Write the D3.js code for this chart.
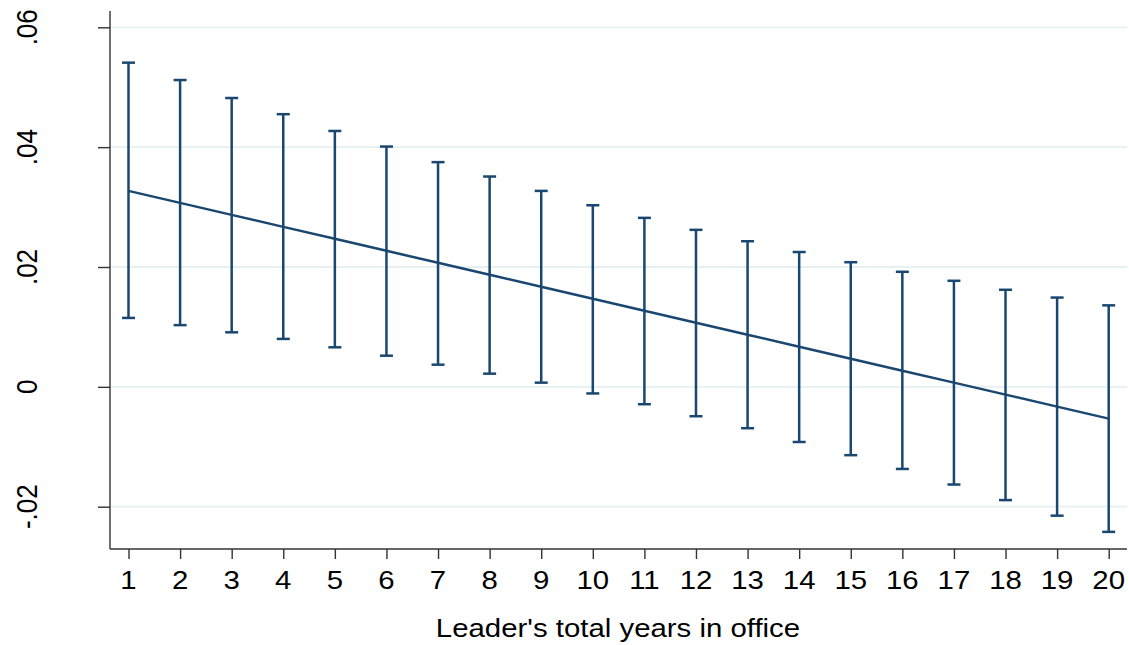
<!DOCTYPE html>
<html>
<head>
<meta charset="utf-8">
<script src="https://cdn.jsdelivr.net/npm/d3@7"></script>
<style>
  body { margin: 0; background: #fff; }
  svg { display: block; }
  text { font-family: "Liberation Sans", Arial, sans-serif; fill: #000; }
</style>
</head>
<body>
<div id="chart"></div>
<script>
// Years in office (x categories)
const years = d3.range(1, 21);

// Marginal effect estimates
const estimate = [0.0327, 0.0307, 0.0287, 0.0267, 0.0247, 0.0227, 0.0207, 0.0187, 0.0167, 0.0147,
                  0.0127, 0.0107, 0.0087, 0.0067, 0.0047, 0.0027, 0.0007, -0.0013, -0.0033, -0.0053];

// Upper and lower bounds of the confidence interval
const upper = [0.0541, 0.0512, 0.0482, 0.0455, 0.0427, 0.0401, 0.0375, 0.0351, 0.0327, 0.0303,
               0.0282, 0.0262, 0.0243, 0.0225, 0.0208, 0.0192, 0.0177, 0.0162, 0.0149, 0.0136];
const lower = [0.0115, 0.0103, 0.0091, 0.0080, 0.0066, 0.0052, 0.0037, 0.0022, 0.0007, -0.0011,
               -0.0029, -0.0049, -0.0069, -0.0092, -0.0114, -0.0137, -0.0163, -0.0189, -0.0215, -0.0242];

// Y axis ticks and labels
const yTicks = [-0.02, 0, 0.02, 0.04, 0.06];
const yTickLabels = ["-.02", "0", ".02", ".04", ".06"];
const xTitle = "Leader's total years in office";

const W = 1129, H = 645;
const navy = "#1a476f";
const stretch = 1.13;   // text in the picture is a bit wider than tall
const fontSize = 26;

const svg = d3.select("#chart").append("svg")
    .attr("width", W)
    .attr("height", H);

const x = d3.scaleLinear().domain([1, 20]).range([128.5, 1108.7]);
const y = d3.scaleLinear().domain([-0.02, 0.06]).range([506.7, 27.3]);

const plotLeft = 110, plotRight = 1127, plotTop = 11, plotBottom = 549;

// Gridlines
svg.append("g")
   .selectAll("line")
   .data(yTicks)
   .join("line")
   .attr("x1", plotLeft)
   .attr("x2", plotRight)
   .attr("y1", d => y(d))
   .attr("y2", d => y(d))
   .attr("stroke", "#e6eff1")
   .attr("stroke-width", 1.8);

// Y axis
const yAxis = svg.append("g")
    .attr("transform", `translate(${plotLeft},0)`)
    .call(d3.axisLeft(y).tickValues(yTicks).tickSize(12).tickFormat(""));
yAxis.select(".domain").attr("d", `M0,${plotTop}V${plotBottom}`);
yAxis.selectAll("path, line").attr("stroke", "#333").attr("stroke-width", 1.4);

svg.append("g")
   .selectAll("text")
   .data(yTicks)
   .join("text")
   .attr("transform", d => `translate(37,${y(d)}) scale(${stretch},1) rotate(-90)`)
   .attr("text-anchor", "middle")
   .style("font-size", fontSize + "px")
   .text((d, i) => yTickLabels[i]);

// X axis
const xAxis = svg.append("g")
    .attr("transform", `translate(0,${plotBottom})`)
    .call(d3.axisBottom(x).tickValues(years).tickSize(10).tickFormat(""));
xAxis.select(".domain").attr("d", `M${plotLeft},0H${plotRight}`);
xAxis.selectAll("path, line").attr("stroke", "#333").attr("stroke-width", 1.4);

svg.append("g")
   .selectAll("text")
   .data(years)
   .join("text")
   .attr("transform", d => `translate(${x(d)},589.3) scale(${stretch},1)`)
   .attr("text-anchor", "middle")
   .style("font-size", fontSize + "px")
   .text(d => d);

svg.append("text")
   .attr("transform", `translate(618,636.7) scale(${stretch},1)`)
   .attr("text-anchor", "middle")
   .style("font-size", fontSize + "px")
   .text(xTitle);

// Error bars
const bars = svg.append("g")
    .attr("stroke", navy)
    .attr("stroke-width", 2.5)
    .attr("fill", "none");

years.forEach((yr, i) => {
    const cx = x(yr);
    bars.append("line")
        .attr("x1", cx).attr("x2", cx)
        .attr("y1", y(upper[i])).attr("y2", y(lower[i]));
    bars.append("line")
        .attr("x1", cx - 6.5).attr("x2", cx + 6.5)
        .attr("y1", y(upper[i])).attr("y2", y(upper[i]));
    bars.append("line")
        .attr("x1", cx - 6.5).attr("x2", cx + 6.5)
        .attr("y1", y(lower[i])).attr("y2", y(lower[i]));
});

// Estimate line
svg.append("path")
   .datum(years)
   .attr("fill", "none")
   .attr("stroke", navy)
   .attr("stroke-width", 2.5)
   .attr("d", d3.line().x(d => x(d)).y((d, i) => y(estimate[i])));
</script>
</body>
</html>
